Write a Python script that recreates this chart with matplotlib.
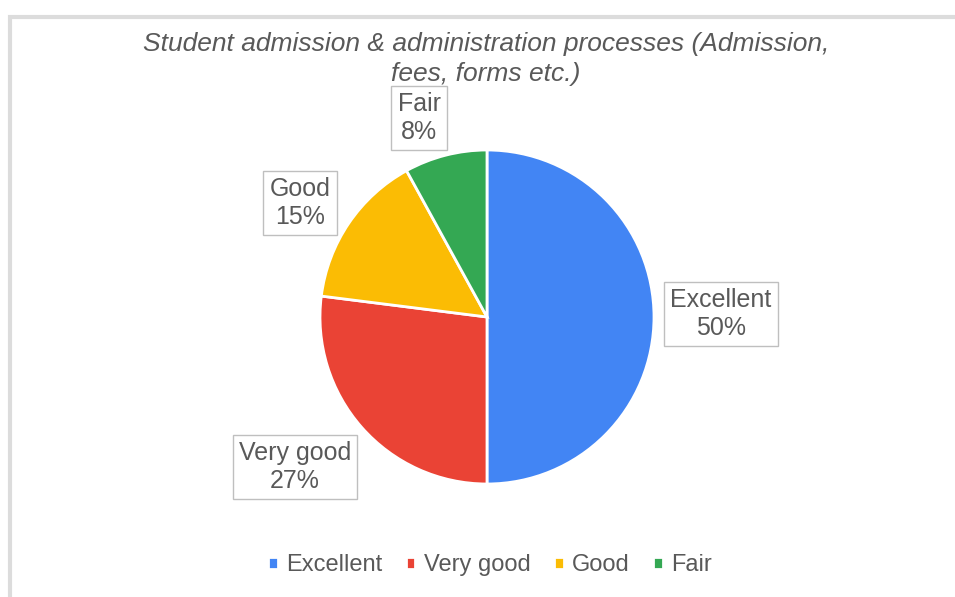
import matplotlib
matplotlib.use("Agg")
import matplotlib.pyplot as plt
from matplotlib.patches import Rectangle

categories = ["Excellent", "Very good", "Good", "Fair"]
values = [50, 27, 15, 8]
colors = ["#4285F4", "#EA4335", "#FBBC04", "#34A853"]
title = "Student admission & administration processes (Admission,\nfees, forms etc.)"

plt.rcParams['font.family'] = ['Liberation Sans', 'DejaVu Sans']
W, H = 955, 597
fig = plt.figure(figsize=(W / 100, H / 100), dpi=100)
ax = fig.add_axes([0, 0, 1, 1])

# chart frame
ax.add_patch(Rectangle((10, -5), W, H - 12, facecolor='white', edgecolor='#DCDCDC', lw=3, zorder=0))

cx, cy, r = 487, H - 317, 167
wedges, _ = ax.pie(values, colors=colors, startangle=90, counterclock=False,
                   center=(cx, cy), radius=r, frame=True,
                   wedgeprops=dict(edgecolor='white', linewidth=2))
ax.set_xlim(0, W)
ax.set_ylim(0, H)
ax.set_aspect('equal')
ax.axis('off')

ax.text(486, H - 59, title, ha='center', va='center', fontsize=19, style='italic',
        color='#595959', linespacing=1.28)

label_pos = {"Excellent": (721, 314), "Very good": (295, 467), "Good": (300, 203), "Fair": (419, 118)}
for cat, v in zip(categories, values):
    x, y = label_pos[cat]
    ax.text(x, H - y, f"{cat}\n{v}%", ha='center', va='center', fontsize=18, color='#595959',
            linespacing=1.2,
            bbox=dict(boxstyle='square,pad=0.25', facecolor='white', edgecolor='#BFBFBF', lw=1))

leg = ax.legend(wedges, categories, loc='center', bbox_to_anchor=(490 / W, 1 - 565 / H),
                ncol=4, frameon=False, fontsize=17, handlelength=0.4, handleheight=0.4,
                handletextpad=0.35, columnspacing=1.0, labelcolor='#595959')
fig.savefig("out.png", dpi=100)
